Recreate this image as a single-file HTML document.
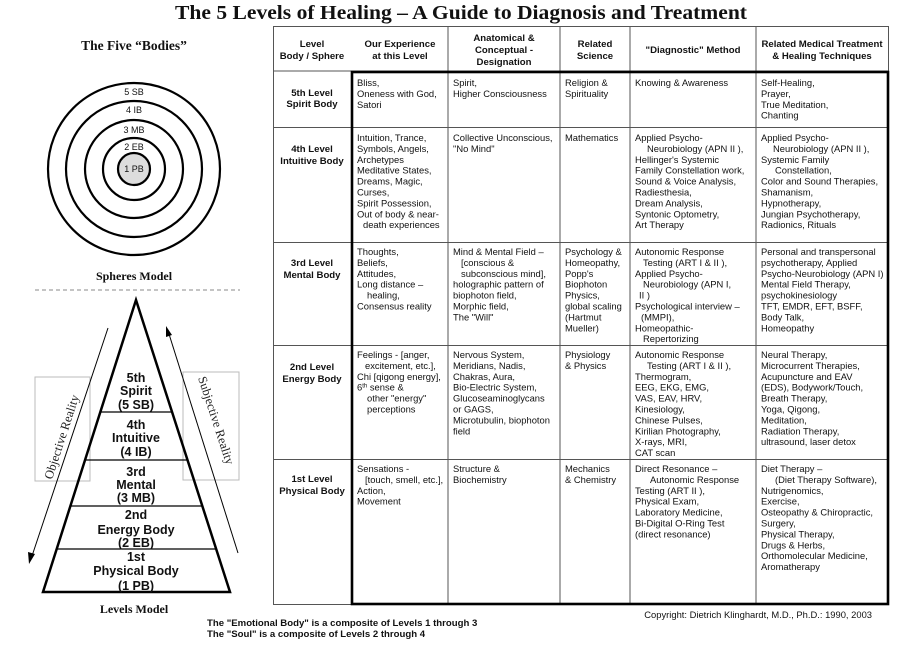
<!DOCTYPE html>
<html><head><meta charset="utf-8"><style>
html,body{margin:0;padding:0;background:#fff;width:923px;height:653px;overflow:hidden}
svg{display:block}
.t{font-family:"Liberation Sans",sans-serif;font-size:9.4px;fill:#111}
.h{font-family:"Liberation Sans",sans-serif;font-size:9.6px;font-weight:bold;fill:#111}
.p{font-family:"Liberation Sans",sans-serif;font-size:12.5px;font-weight:bold;fill:#111}
.s{font-family:"Liberation Serif",serif;font-weight:bold;fill:#111}
</style></head><body>
<svg width="923" height="653" viewBox="0 0 923 653" xmlns="http://www.w3.org/2000/svg">
<text class="s" x="461" y="19" font-size="20" text-anchor="middle" textLength="572" lengthAdjust="spacingAndGlyphs">The 5 Levels of Healing – A Guide to Diagnosis and Treatment</text>

<!-- Left: spheres -->
<text class="s" x="134" y="50" font-size="13.5" text-anchor="middle">The Five “Bodies”</text>
<g fill="none" stroke="#000" stroke-width="2.2">
<circle cx="134" cy="169" r="86"/><circle cx="134" cy="169" r="68"/><circle cx="134" cy="169" r="49"/><circle cx="134" cy="169" r="31"/>
</g>
<circle cx="134" cy="169" r="16" fill="#ddd" stroke="#000" stroke-width="2.2"/>
<g font-family="Liberation Sans,sans-serif" font-size="9" fill="#111" text-anchor="middle">
<text x="134" y="95">5 SB</text><text x="134" y="113">4 IB</text><text x="134" y="133">3 MB</text><text x="134" y="150">2 EB</text><text x="134" y="172">1 PB</text>
</g>
<text class="s" x="134" y="280" font-size="12" text-anchor="middle">Spheres Model</text>
<line x1="35" y1="290" x2="240" y2="290" stroke="#888" stroke-dasharray="4,3" stroke-width="1"/>

<!-- boxes -->
<rect x="35" y="377" width="55" height="104" fill="none" stroke="#bbb" stroke-width="1"/>
<rect x="183" y="372" width="56" height="108" fill="none" stroke="#bbb" stroke-width="1"/>
<!-- pyramid -->
<polygon points="136,300 43,592 230,592" fill="none" stroke="#000" stroke-width="2.5"/>
<g stroke="#000" stroke-width="1.2">
<line x1="100" y1="412" x2="172" y2="412"/><line x1="85" y1="460" x2="188" y2="460"/><line x1="71" y1="506" x2="202" y2="506"/><line x1="57" y1="549" x2="217" y2="549"/>
</g>
<g class="p" text-anchor="middle">
<text class="p" x="136" y="382">5th</text><text class="p" x="136" y="395">Spirit</text><text class="p" x="136" y="409">(5 SB)</text>
<text class="p" x="136" y="429">4th</text><text class="p" x="136" y="442">Intuitive</text><text class="p" x="136" y="456">(4 IB)</text>
<text class="p" x="136" y="476">3rd</text><text class="p" x="136" y="489">Mental</text><text class="p" x="136" y="502">(3 MB)</text>
<text class="p" x="136" y="519">2nd</text><text class="p" x="136" y="534">Energy Body</text><text class="p" x="136" y="547">(2 EB)</text>
<text class="p" x="136" y="561">1st</text><text class="p" x="136" y="575">Physical Body</text><text class="p" x="136" y="590">(1 PB)</text>
</g>
<!-- arrows -->
<line x1="108" y1="328" x2="32" y2="556" stroke="#000" stroke-width="1"/>
<polygon points="29,564 28,552 35,554" fill="#000"/>
<line x1="238" y1="553" x2="169" y2="334" stroke="#000" stroke-width="1"/>
<polygon points="166,326 166,337 172,335" fill="#000"/>
<text font-family="Liberation Serif,serif" font-size="12.5" fill="#222" transform="translate(52,480) rotate(-72)">Objective Reality</text>
<text font-family="Liberation Serif,serif" font-size="12.5" fill="#222" transform="translate(198,378) rotate(72)">Subjective Reality</text>
<text class="s" x="134" y="613" font-size="12" text-anchor="middle">Levels Model</text>

<!-- table lines -->
<g stroke="#555" stroke-width="1" fill="none">
<rect x="273.5" y="26.5" width="615" height="578"/>
<line x1="448" y1="26" x2="448" y2="605"/><line x1="560" y1="26" x2="560" y2="605"/><line x1="630" y1="26" x2="630" y2="605"/><line x1="756" y1="26" x2="756" y2="605"/>
<line x1="273" y1="127.5" x2="889" y2="127.5"/><line x1="273" y1="242.5" x2="889" y2="242.5"/><line x1="273" y1="345.5" x2="889" y2="345.5"/><line x1="273" y1="459.5" x2="889" y2="459.5"/>
<line x1="273" y1="71" x2="889" y2="71"/>
</g>
<rect x="352" y="72" width="536" height="532" fill="none" stroke="#000" stroke-width="2.6"/>

<!-- header -->
<g class="h" text-anchor="middle">
<text class="h" x="312" y="47">Level</text><text class="h" x="312" y="59">Body / Sphere</text>
<text class="h" x="400" y="47">Our Experience</text><text class="h" x="400" y="59">at this Level</text>
<text class="h" x="504" y="41">Anatomical &amp;</text><text class="h" x="504" y="53">Conceptual -</text><text class="h" x="504" y="65">Designation</text>
<text class="h" x="595" y="47">Related</text><text class="h" x="595" y="59">Science</text>
<text class="h" x="693" y="53">"Diagnostic" Method</text>
<text class="h" x="822" y="47">Related Medical Treatment</text><text class="h" x="822" y="59">&amp; Healing Techniques</text>
</g>
<!-- row labels -->
<g class="h" text-anchor="middle">
<text class="h" x="312" y="96">5th Level</text><text class="h" x="312" y="107">Spirit Body</text>
<text class="h" x="312" y="152">4th Level</text><text class="h" x="312" y="164">Intuitive Body</text>
<text class="h" x="312" y="266">3rd Level</text><text class="h" x="312" y="278">Mental Body</text>
<text class="h" x="312" y="370">2nd Level</text><text class="h" x="312" y="382">Energy Body</text>
<text class="h" x="312" y="482">1st Level</text><text class="h" x="312" y="494">Physical Body</text>
</g>

<!-- row 5 -->
<text class="t" y="86"><tspan x="357">Bliss,</tspan><tspan x="357" dy="10.9">Oneness  with God,</tspan><tspan x="357" dy="10.9">Satori</tspan></text>
<text class="t" y="86"><tspan x="453">Spirit,</tspan><tspan x="453" dy="10.9">Higher Consciousness</tspan></text>
<text class="t" y="86"><tspan x="565">Religion &amp;</tspan><tspan x="565" dy="10.9">Spirituality</tspan></text>
<text class="t" y="86"><tspan x="635">Knowing &amp; Awareness</tspan></text>
<text class="t" y="86"><tspan x="761">Self-Healing,</tspan><tspan x="761" dy="10.9">Prayer,</tspan><tspan x="761" dy="10.9">True Meditation,</tspan><tspan x="761" dy="10.9">Chanting</tspan></text>

<!-- row 4 -->
<text class="t" y="141"><tspan x="357">Intuition,   Trance,</tspan><tspan x="357" dy="10.9">Symbols, Angels,</tspan><tspan x="357" dy="10.9">Archetypes</tspan><tspan x="357" dy="10.9">Meditative States,</tspan><tspan x="357" dy="10.9">Dreams, Magic,</tspan><tspan x="357" dy="10.9">Curses,</tspan><tspan x="357" dy="10.9">Spirit Possession,</tspan><tspan x="357" dy="10.9">Out of body &amp; near-</tspan><tspan x="363" dy="10.9">death experiences</tspan></text>
<text class="t" y="141"><tspan x="453">Collective Unconscious,</tspan><tspan x="453" dy="10.9">"No Mind"</tspan></text>
<text class="t" y="141"><tspan x="565">Mathematics</tspan></text>
<text class="t" y="141"><tspan x="635">Applied Psycho-</tspan><tspan x="647" dy="10.9">Neurobiology (APN II ),</tspan><tspan x="635" dy="10.9">Hellinger's Systemic</tspan><tspan x="635" dy="10.9">Family Constellation work,</tspan><tspan x="635" dy="10.9">Sound &amp; Voice Analysis,</tspan><tspan x="635" dy="10.9">Radiesthesia,</tspan><tspan x="635" dy="10.9">Dream Analysis,</tspan><tspan x="635" dy="10.9">Syntonic Optometry,</tspan><tspan x="635" dy="10.9">Art Therapy</tspan></text>
<text class="t" y="141"><tspan x="761">Applied Psycho-</tspan><tspan x="773" dy="10.9">Neurobiology (APN II ),</tspan><tspan x="761" dy="10.9">Systemic Family</tspan><tspan x="775" dy="10.9">Constellation,</tspan><tspan x="761" dy="10.9">Color and Sound Therapies,</tspan><tspan x="761" dy="10.9">Shamanism,</tspan><tspan x="761" dy="10.9">Hypnotherapy,</tspan><tspan x="761" dy="10.9">Jungian Psychotherapy,</tspan><tspan x="761" dy="10.9">Radionics, Rituals</tspan></text>

<!-- row 3 -->
<text class="t" y="255"><tspan x="357">Thoughts,</tspan><tspan x="357" dy="10.9">Beliefs,</tspan><tspan x="357" dy="10.9">Attitudes,</tspan><tspan x="357" dy="10.9">Long distance –</tspan><tspan x="367" dy="10.9">healing,</tspan><tspan x="357" dy="10.9">Consensus reality</tspan></text>
<text class="t" y="255"><tspan x="453">Mind &amp; Mental Field –</tspan><tspan x="461" dy="10.9">[conscious &amp;</tspan><tspan x="461" dy="10.9">subconscious mind],</tspan><tspan x="453" dy="10.9">holographic pattern of</tspan><tspan x="453" dy="10.9">biophoton field,</tspan><tspan x="453" dy="10.9">Morphic field,</tspan><tspan x="453" dy="10.9">The "Will"</tspan></text>
<text class="t" y="255"><tspan x="565">Psychology &amp;</tspan><tspan x="565" dy="10.9">Homeopathy,</tspan><tspan x="565" dy="10.9">Popp's</tspan><tspan x="565" dy="10.9">Biophoton</tspan><tspan x="565" dy="10.9">Physics,</tspan><tspan x="565" dy="10.9">global scaling</tspan><tspan x="565" dy="10.9">(Hartmut</tspan><tspan x="565" dy="10.9">Mueller)</tspan></text>
<text class="t" y="255"><tspan x="635">Autonomic Response</tspan><tspan x="643" dy="10.9">Testing (ART I &amp; II ),</tspan><tspan x="635" dy="10.9">Applied Psycho-</tspan><tspan x="643" dy="10.9">Neurobiology (APN I,</tspan><tspan x="639" dy="10.9">II )</tspan><tspan x="635" dy="10.9">Psychological interview –</tspan><tspan x="641" dy="10.9">(MMPI),</tspan><tspan x="635" dy="10.9">Homeopathic-</tspan><tspan x="643" dy="10.9">Repertorizing</tspan></text>
<text class="t" y="255"><tspan x="761">Personal and transpersonal</tspan><tspan x="761" dy="10.9">psychotherapy, Applied</tspan><tspan x="761" dy="10.9">Psycho-Neurobiology (APN I)</tspan><tspan x="761" dy="10.9">Mental Field Therapy,</tspan><tspan x="761" dy="10.9">psychokinesiology</tspan><tspan x="761" dy="10.9">TFT, EMDR, EFT, BSFF,</tspan><tspan x="761" dy="10.9">Body Talk,</tspan><tspan x="761" dy="10.9">Homeopathy</tspan></text>

<!-- row 2 -->
<text class="t" y="358"><tspan x="357">Feelings - [anger,</tspan><tspan x="365" dy="10.9">excitement,  etc.],</tspan><tspan x="357" dy="10.9">Chi [qigong energy],</tspan><tspan x="357" dy="10.9">6<tspan font-size="6" dy="-3">th</tspan><tspan dy="3"> sense &amp;</tspan></tspan><tspan x="367" dy="10.9">other "energy"</tspan><tspan x="367" dy="10.9">perceptions</tspan></text>
<text class="t" y="358"><tspan x="453">Nervous System,</tspan><tspan x="453" dy="10.9">Meridians, Nadis,</tspan><tspan x="453" dy="10.9">Chakras,  Aura,</tspan><tspan x="453" dy="10.9">Bio-Electric System,</tspan><tspan x="453" dy="10.9">Glucoseaminoglycans</tspan><tspan x="453" dy="10.9">or GAGS,</tspan><tspan x="453" dy="10.9">Microtubulin, biophoton</tspan><tspan x="453" dy="10.9">field</tspan></text>
<text class="t" y="358"><tspan x="565">Physiology</tspan><tspan x="565" dy="10.9">&amp; Physics</tspan></text>
<text class="t" y="358"><tspan x="635">Autonomic Response</tspan><tspan x="647" dy="10.9">Testing (ART I &amp; II ),</tspan><tspan x="635" dy="10.9">Thermogram,</tspan><tspan x="635" dy="10.9">EEG, EKG, EMG,</tspan><tspan x="635" dy="10.9">VAS, EAV, HRV,</tspan><tspan x="635" dy="10.9">Kinesiology,</tspan><tspan x="635" dy="10.9">Chinese Pulses,</tspan><tspan x="635" dy="10.9">Kirilian Photography,</tspan><tspan x="635" dy="10.9">X-rays, MRI,</tspan><tspan x="635" dy="10.9">CAT scan</tspan></text>
<text class="t" y="358"><tspan x="761">Neural Therapy,</tspan><tspan x="761" dy="10.9">Microcurrent Therapies,</tspan><tspan x="761" dy="10.9">Acupuncture and EAV</tspan><tspan x="761" dy="10.9">(EDS), Bodywork/Touch,</tspan><tspan x="761" dy="10.9">Breath Therapy,</tspan><tspan x="761" dy="10.9">Yoga, Qigong,</tspan><tspan x="761" dy="10.9">Meditation,</tspan><tspan x="761" dy="10.9">Radiation Therapy,</tspan><tspan x="761" dy="10.9">ultrasound, laser detox</tspan></text>

<!-- row 1 -->
<text class="t" y="472"><tspan x="357">Sensations -</tspan><tspan x="365" dy="10.9">[touch, smell, etc.],</tspan><tspan x="357" dy="10.9">Action,</tspan><tspan x="357" dy="10.9">Movement</tspan></text>
<text class="t" y="472"><tspan x="453">Structure &amp;</tspan><tspan x="453" dy="10.9">Biochemistry</tspan></text>
<text class="t" y="472"><tspan x="565">Mechanics</tspan><tspan x="565" dy="10.9">&amp; Chemistry</tspan></text>
<text class="t" y="472"><tspan x="635">Direct Resonance –</tspan><tspan x="650" dy="10.9">Autonomic Response</tspan><tspan x="635" dy="10.9">Testing (ART II ),</tspan><tspan x="635" dy="10.9">Physical Exam,</tspan><tspan x="635" dy="10.9">Laboratory Medicine,</tspan><tspan x="635" dy="10.9">Bi-Digital O-Ring Test</tspan><tspan x="635" dy="10.9">(direct resonance)</tspan></text>
<text class="t" y="472"><tspan x="761">Diet Therapy –</tspan><tspan x="775" dy="10.9">(Diet Therapy Software),</tspan><tspan x="761" dy="10.9">Nutrigenomics,</tspan><tspan x="761" dy="10.9">Exercise,</tspan><tspan x="761" dy="10.9">Osteopathy &amp; Chiropractic,</tspan><tspan x="761" dy="10.9">Surgery,</tspan><tspan x="761" dy="10.9">Physical Therapy,</tspan><tspan x="761" dy="10.9">Drugs &amp; Herbs,</tspan><tspan x="761" dy="10.9">Orthomolecular Medicine,</tspan><tspan x="761" dy="10.9">Aromatherapy</tspan></text>

<!-- footer -->
<text class="t" x="872" y="618" text-anchor="end" font-size="9.4">Copyright: Dietrich Klinghardt, M.D., Ph.D.: 1990, 2003</text>
<text class="h" x="207" y="626" font-size="9">The "Emotional Body" is a composite of Levels 1 through 3</text>
<text class="h" x="207" y="637" font-size="9">The "Soul" is a composite of Levels 2 through 4</text>
</svg>
</body></html>
